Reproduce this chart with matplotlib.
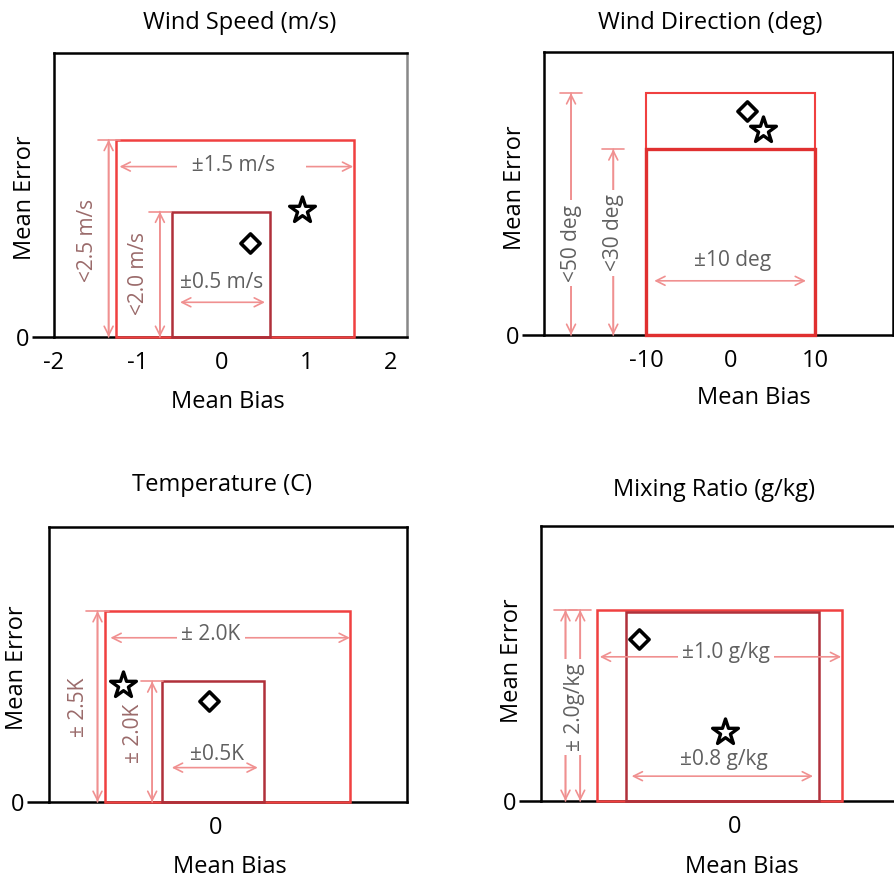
import matplotlib
matplotlib.use('Agg')
import matplotlib.pyplot as plt
from matplotlib.patches import Rectangle

plt.rcParams['font.family'] = ['Open Sans', 'DejaVu Sans']

# ---- data (x in bias units, y in error units) ----
# Wind speed (m/s)
ws_xticks = [-2, -1, 0, 1, 2]
ws_xlim = [-1.91, 2.20]
ws_ylim = [0, 3.60]
ws_outer = [-1.26, 1.57, 2.50]     # left, right, top
ws_inner = [-0.60, 0.57, 1.59]
ws_star = [0.95, 1.61]
ws_diamond = [0.33, 1.19]

# Wind direction (deg)
wd_xticks = [-10, 0, 10]
wd_xlim = [-22.1, 19.2]
wd_ylim = [0, 58.5]
wd_outer = [-10, 10, 50]
wd_inner = [-10, 10, 38.4]
wd_star = [3.85, 42.4]
wd_diamond = [1.95, 46.3]

# Temperature (C)
tc_xticks = [0]
tc_xlim = [-2.72, 3.11]
tc_ylim = [0, 3.60]
tc_outer = [-1.80, 2.18, 2.50]
tc_inner = [-0.88, 0.78, 1.58]
tc_star = [-1.51, 1.53]
tc_diamond = [-0.11, 1.32]

# Mixing ratio (g/kg)
mr_xticks = [0]
mr_xlim = [-1.58, 1.35]
mr_ylim = [0, 2.88]
mr_outer = [-1.12, 0.88, 2.00]
mr_inner = [-0.89, 0.69, 1.98]
mr_star = [-0.08, 0.72]
mr_diamond = [-0.78, 1.70]

RED = '#f04040'
DARK = '#b0303a'
PINK = '#f09090'
GREY = '#606060'
BROWN = '#9a6a6a'
FS = 17
AFS = 15

fig = plt.figure(figsize=(8.94, 8.80), dpi=100)


def setup(ax, title, xticks, xlim, ylim, tx, ty, ylx, yly, xlx, xly):
    ax.set_xlim(xlim)
    ax.set_ylim(ylim)
    ax.set_xticks(xticks)
    ax.set_xticklabels([str(t) for t in xticks])
    ax.set_xticks([0], minor=True)
    ax.set_yticks([0])
    ax.tick_params(axis='x', which='major', length=0, pad=10, labelsize=FS)
    ax.tick_params(axis='x', which='minor', length=26, width=1.8, direction='inout')
    ax.tick_params(axis='y', length=16, width=1.8, direction='out', pad=2, labelsize=FS)
    for s in ax.spines.values():
        s.set_linewidth(1.8)
    ax.text(ylx, yly, 'Mean Error', rotation=90, transform=ax.transAxes,
            ha='center', va='center', fontsize=FS)
    ax.text(xlx, xly, 'Mean Bias', transform=ax.transAxes,
            ha='center', va='center', fontsize=FS)
    ax.text(tx, ty, title, transform=ax.transAxes, ha='center', va='center', fontsize=FS)


def box(ax, ext, color, lw):
    x0, x1, top = ext
    ax.add_patch(Rectangle((x0, 0), x1 - x0, top, fill=False, edgecolor=color,
                           linewidth=lw, zorder=3, clip_on=False))


def marks(ax, star, diamond):
    ax.scatter([star[0]], [star[1]], marker='*', s=380, facecolor='white',
               edgecolor='black', linewidth=2.4, zorder=5)
    ax.scatter([diamond[0]], [diamond[1]], marker='D', s=95, facecolor='white',
               edgecolor='black', linewidth=2.6, zorder=5)


def hdim(ax, x0, x1, y, label, tx, ty):
    ax.annotate('', xy=(x1, y), xytext=(x0, y),
                arrowprops=dict(arrowstyle='<->', color=PINK, lw=1.2,
                                shrinkA=0, shrinkB=0, mutation_scale=16))
    if label:
        ax.text(tx, ty, label, ha='center', va='center', color=GREY, fontsize=AFS,
                bbox=dict(facecolor='white', edgecolor='none', pad=3), zorder=4)


def vdim(ax, x, top, label, tx, ty, boxed=False):
    ax.annotate('', xy=(x, 0), xytext=(x, top),
                arrowprops=dict(arrowstyle='<->', color=PINK, lw=1.2,
                                shrinkA=0, shrinkB=0, mutation_scale=16))
    ax.annotate('', xy=(x, 0), xytext=(x, top),
                arrowprops=dict(arrowstyle='|-|, widthA=0.5, widthB=0', color=PINK,
                                lw=1.2, shrinkA=0, shrinkB=0, mutation_scale=16))
    if label:
        kw = {}
        if boxed:
            kw['bbox'] = dict(facecolor='white', edgecolor='none', pad=3)
        ax.text(tx, ty, label, rotation=90, ha='center', va='center',
                color=GREY if boxed else BROWN, fontsize=AFS, zorder=4, **kw)


# ---- Wind speed ----
ax1 = fig.add_axes([54 / 894, 1 - 337 / 880, 353 / 894, 284 / 880])
setup(ax1, 'Wind Speed (m/s)', ws_xticks, ws_xlim, ws_ylim,
      0.527, 1.106, -0.082, 0.49, 0.493, -0.229)
ax1.spines['right'].set_color('#888888')
box(ax1, ws_outer, RED, 1.8)
box(ax1, ws_inner, DARK, 1.8)
marks(ax1, ws_star, ws_diamond)
hdim(ax1, ws_outer[0] + 0.04, ws_outer[1] - 0.01, 2.16, '  ±1.5 m/s     ', 0.23, 2.18)
hdim(ax1, -0.50, 0.51, 0.44, '±0.5 m/s', -0.01, 0.69)
vdim(ax1, -1.35, ws_outer[2], '<2.5 m/s', -1.60, 1.23)
vdim(ax1, -0.74, ws_inner[2], '<2.0 m/s', -0.99, 0.81)

# ---- Wind direction ----
ax2 = fig.add_axes([544 / 894, 1 - 335 / 880, 349 / 894, 283 / 880])
setup(ax2, 'Wind Direction (deg)', wd_xticks, wd_xlim, wd_ylim,
      0.477, 1.102, -0.083, 0.52, 0.60, -0.223)
box(ax2, wd_outer, RED, 1.5)
box(ax2, wd_inner, '#e03030', 2.4)
marks(ax2, wd_star, wd_diamond)
hdim(ax2, -9.05, 8.9, 11.2, '', 0, 0)
ax2.text(0.18, 15.5, '±10 deg', ha='center', va='center', color=GREY, fontsize=AFS)
vdim(ax2, -18.9, wd_outer[2], '<50 deg', -18.9, 19.0, boxed=True)
vdim(ax2, -13.9, wd_inner[2], '<30 deg', -13.9, 21.1, boxed=True)

# ---- Temperature ----
ax3 = fig.add_axes([49 / 894, 1 - 802 / 880, 358 / 894, 275 / 880])
setup(ax3, 'Temperature (C)', tc_xticks, tc_xlim, tc_ylim,
      0.483, 1.153, -0.089, 0.49, 0.505, -0.236)
box(ax3, tc_outer, RED, 1.8)
box(ax3, tc_inner, DARK, 1.8)
marks(ax3, tc_star, tc_diamond)
hdim(ax3, tc_outer[0] + 0.08, tc_outer[1], 2.15, '± 2.0K', -0.08, 2.19)
hdim(ax3, -0.72, 0.68, 0.45, '', 0, 0)
ax3.text(0.02, 0.62, '±0.5K', ha='center', va='center', color=GREY, fontsize=AFS)
vdim(ax3, -1.93, tc_outer[2], '± 2.5K', -2.24, 1.24)
vdim(ax3, -1.04, tc_inner[2], '± 2.0K', -1.35, 0.90)

# ---- Mixing ratio ----
ax4 = fig.add_axes([541 / 894, 1 - 801 / 880, 359 / 894, 275 / 880])
setup(ax4, 'Mixing Ratio (g/kg)', mr_xticks, mr_xlim, mr_ylim,
      0.482, 1.131, -0.081, 0.51, 0.56, -0.24)
box(ax4, mr_outer, RED, 1.8)
box(ax4, mr_inner, DARK, 1.8)
marks(ax4, mr_star, mr_diamond)
hdim(ax4, -1.10, 0.87, 1.51, '±1.0 g/kg', -0.07, 1.55)
hdim(ax4, -0.84, 0.64, 0.26, '', 0, 0)
ax4.text(-0.09, 0.43, '±0.8 g/kg', ha='center', va='center', color=GREY, fontsize=AFS)
vdim(ax4, -1.38, mr_outer[2], '', 0, 0)
vdim(ax4, -1.26, mr_outer[2], '', 0, 0)
ax4.text(-1.31, 0.98, '± 2.0g/kg', rotation=90, ha='center', va='center', color=GREY,
         fontsize=AFS, zorder=4, bbox=dict(facecolor='white', edgecolor='none', pad=3))

fig.savefig('out.png', dpi=100)
